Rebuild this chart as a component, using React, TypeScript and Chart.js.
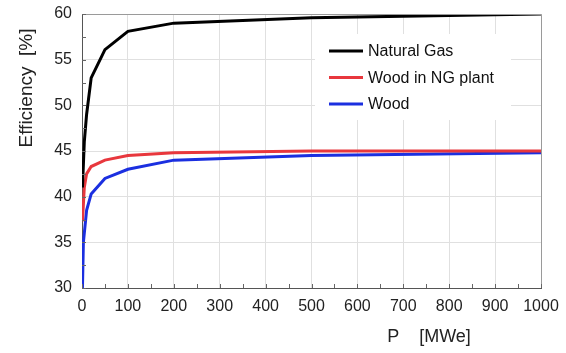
import React, { useEffect, useRef } from "react";
import { Chart, registerables } from "chart.js";

Chart.register(...registerables);

// P [MWe] sample points and efficiencies [%]
const gasP = [1, 5, 10, 20, 50, 100, 200, 500, 1000];
const gasEff = [41, 46, 49, 53, 56.1, 58.1, 59, 59.6, 60];
const ngWoodP = [1, 5, 10, 20, 50, 100, 200, 500, 1000];
const ngWoodEff = [37.3, 41, 42.5, 43.3, 44, 44.5, 44.8, 45, 45];
const woodP = [1, 3, 10, 20, 50, 100, 200, 500, 1000];
const woodEff = [30, 35, 38.5, 40.3, 42, 43, 44, 44.5, 44.8];

const seriesLabels = ["Natural Gas", "Wood in NG plant", "Wood"];
const seriesColors = ["#000000", "#e8373d", "#1b2fe0"];

const xTitle = "P    [MWe]";
const yTitle = "Efficiency  [%]";

const FONT = "Arial, 'Liberation Sans', Helvetica, sans-serif";

const toPoints = (xs: number[], ys: number[]) => xs.map((x, i) => ({ x, y: ys[i] }));

const overlay = {
  id: "overlay",
  beforeDatasetsDraw(chart: any) {
    const { ctx, chartArea: a } = chart;
    ctx.save();
    ctx.fillStyle = "#ffffff";
    ctx.fillRect(a.left + 233, a.top + 20, 196, 86);
    ctx.restore();
  },
  afterDraw(chart: any) {
    const { ctx, chartArea: a, scales } = chart;
    const xs = scales.x;
    const ys = scales.y;
    ctx.save();
    ctx.strokeStyle = "#9a9a9a";
    ctx.lineWidth = 1;
    ctx.beginPath();
    ctx.moveTo(a.left, Math.round(a.top) + 0.5);
    ctx.lineTo(Math.round(a.right) + 0.5, Math.round(a.top) + 0.5);
    ctx.lineTo(Math.round(a.right) + 0.5, a.bottom);
    ctx.stroke();
    ctx.strokeStyle = "#666";
    ctx.beginPath();
    for (let v = 0; v <= 1000; v += 50) {
      const px = Math.round(xs.getPixelForValue(v)) + 0.5;
      ctx.moveTo(px, a.bottom);
      ctx.lineTo(px, a.bottom - 4);
    }
    for (let v = 30; v <= 60; v += 2.5) {
      const py = Math.round(ys.getPixelForValue(v)) + 0.5;
      ctx.moveTo(a.left, py);
      ctx.lineTo(a.left + 4, py);
    }
    ctx.stroke();

    ctx.font = `16px ${FONT}`;
    ctx.textBaseline = "middle";
    ctx.textAlign = "left";
    chart.data.datasets.forEach((ds: any, i: number) => {
      const yy = a.top + 37 + i * 26.5;
      ctx.strokeStyle = ds.borderColor;
      ctx.lineWidth = 3;
      ctx.beginPath();
      ctx.moveTo(a.left + 247, yy);
      ctx.lineTo(a.left + 281, yy);
      ctx.stroke();
      ctx.fillStyle = "#111";
      ctx.fillText(ds.label, a.left + 286, yy + 1);
    });

    ctx.fillStyle = "#222";
    ctx.font = `18px ${FONT}`;
    ctx.textAlign = "center";
    ctx.fillText(xTitle, 429, 337);
    ctx.save();
    ctx.translate(27, 88);
    ctx.rotate(-Math.PI / 2);
    ctx.font = `19px ${FONT}`;
    ctx.fillText(yTitle, 0, 0);
    ctx.restore();
    ctx.restore();
  },
};

export default function App() {
  const ref = useRef<HTMLCanvasElement | null>(null);
  useEffect(() => {
    document.body.style.margin = "0";
    const canvas = ref.current!;
    const chart = new Chart(canvas, {
      type: "line",
      data: {
        datasets: [
          { label: seriesLabels[0], data: toPoints(gasP, gasEff), borderColor: seriesColors[0] },
          { label: seriesLabels[1], data: toPoints(ngWoodP, ngWoodEff), borderColor: seriesColors[1] },
          { label: seriesLabels[2], data: toPoints(woodP, woodEff), borderColor: seriesColors[2] },
        ].map((d) => ({ ...d, borderWidth: 3, pointRadius: 0, tension: 0, fill: false })),
      },
      options: {
        animation: false,
        responsive: false,
        devicePixelRatio: 1,
        layout: { padding: { left: 0, top: 0, right: 25, bottom: 0 } },
        plugins: { legend: { display: false }, tooltip: { enabled: false } },
        scales: {
          x: {
            type: "linear",
            min: 0,
            max: 1000,
            afterFit: (s: any) => {
              s.height = 65;
              s.paddingRight = 0;
              s.paddingLeft = 0;
            },
            ticks: {
              stepSize: 100,
              padding: 9,
              color: "#222",
              font: { size: 16, family: FONT },
              maxRotation: 0,
              callback: (v: any) => String(v),
            },
            grid: { color: "#e0e0e0", drawTicks: false },
            border: { color: "#555", width: 1 },
          },
          y: {
            min: 30,
            max: 60,
            afterFit: (s: any) => {
              s.width = 82;
            },
            ticks: { stepSize: 5, padding: 10, color: "#222", font: { size: 16, family: FONT, lineHeight: 0.5 } },
            grid: { color: "#e0e0e0", drawTicks: false },
            border: { color: "#555", width: 1 },
          },
        },
      },
      plugins: [overlay],
    });
    return () => chart.destroy();
  }, []);
  return (
    <div style={{ width: 566, height: 353 }}>
      <canvas ref={ref} width={566} height={353} />
    </div>
  );
}
